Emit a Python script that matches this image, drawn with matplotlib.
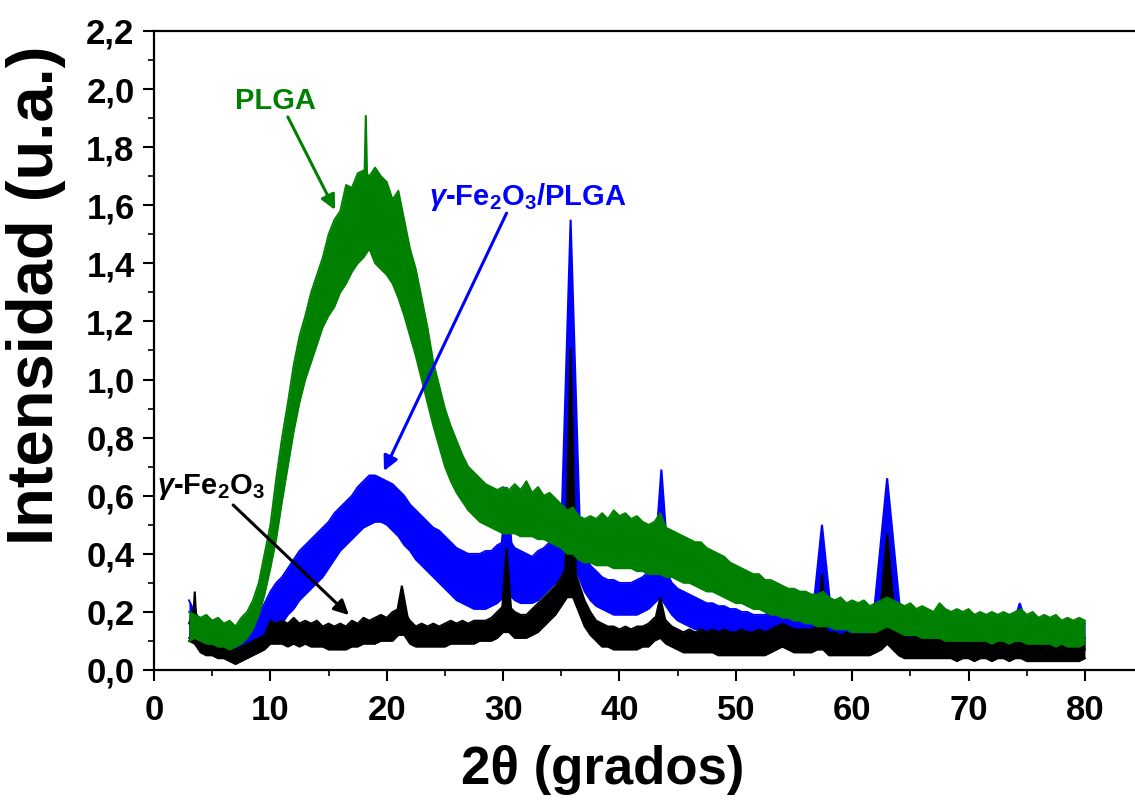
import numpy as np
import matplotlib
matplotlib.use("Agg")
import matplotlib.pyplot as plt
from matplotlib.ticker import MultipleLocator, FuncFormatter

plt.rcParams['font.family'] = ['Liberation Sans', 'DejaVu Sans']
plt.rcParams['font.weight'] = 'bold'
plt.rcParams['mathtext.fontset'] = 'custom'
plt.rcParams['mathtext.rm'] = 'Liberation Sans:bold'
plt.rcParams['mathtext.it'] = 'Liberation Sans:bold:italic'
plt.rcParams['mathtext.bf'] = 'Liberation Sans:bold'

# 2theta grid, every 0.5 degrees from 3 to 80
two_theta = np.arange(3.0, 80.01, 0.5)

# PLGA: upper and lower edge of the noisy trace
plga_hi = [0.20, 0.19, 0.18, 0.19, 0.17, 0.18, 0.16, 0.17, 0.15, 0.18,
           0.20, 0.24, 0.30, 0.40, 0.50, 0.66, 0.80, 0.92, 1.05, 1.15,
           1.22, 1.30, 1.36, 1.42, 1.50, 1.55, 1.58, 1.67, 1.66, 1.71,
           1.72, 1.70, 1.73, 1.70, 1.68, 1.62, 1.65, 1.55, 1.45, 1.38,
           1.28, 1.18, 1.06, 0.98, 0.90, 0.84, 0.79, 0.74, 0.70, 0.68,
           0.66, 0.64, 0.63, 0.62, 0.63, 0.62, 0.64, 0.62, 0.65, 0.61,
           0.63, 0.60, 0.61, 0.59, 0.57, 0.55, 0.56, 0.53, 0.52, 0.53,
           0.52, 0.54, 0.52, 0.55, 0.53, 0.54, 0.52, 0.53, 0.51, 0.50,
           0.51, 0.54, 0.49, 0.48, 0.47, 0.46, 0.45, 0.44, 0.44, 0.42,
           0.41, 0.40, 0.39, 0.37, 0.36, 0.35, 0.34, 0.33, 0.33, 0.31,
           0.31, 0.30, 0.29, 0.28, 0.28, 0.27, 0.27, 0.26, 0.26, 0.27,
           0.25, 0.24, 0.25, 0.23, 0.24, 0.23, 0.24, 0.22, 0.23, 0.24,
           0.25, 0.24, 0.23, 0.22, 0.23, 0.21, 0.22, 0.21, 0.20, 0.23,
           0.21, 0.20, 0.21, 0.20, 0.21, 0.19, 0.20, 0.19, 0.20, 0.19,
           0.20, 0.19, 0.20, 0.21, 0.19, 0.20, 0.18, 0.19, 0.18, 0.19,
           0.17, 0.18, 0.17, 0.18, 0.17]
plga_lo = [0.10, 0.11, 0.10, 0.09, 0.09, 0.08, 0.08, 0.07, 0.08, 0.09,
           0.11, 0.14, 0.19, 0.26, 0.35, 0.45, 0.58, 0.70, 0.82, 0.92,
           1.00, 1.06, 1.12, 1.18, 1.22, 1.25, 1.30, 1.33, 1.37, 1.40,
           1.42, 1.45, 1.40, 1.38, 1.36, 1.33, 1.28, 1.22, 1.15, 1.08,
           1.00, 0.92, 0.84, 0.77, 0.70, 0.65, 0.61, 0.58, 0.55, 0.53,
           0.51, 0.50, 0.49, 0.48, 0.47, 0.47, 0.47, 0.46, 0.46, 0.46,
           0.45, 0.45, 0.44, 0.43, 0.42, 0.40, 0.40, 0.38, 0.37, 0.37,
           0.36, 0.36, 0.36, 0.35, 0.35, 0.35, 0.35, 0.34, 0.34, 0.33,
           0.33, 0.33, 0.32, 0.32, 0.31, 0.30, 0.30, 0.29, 0.28, 0.27,
           0.27, 0.26, 0.25, 0.24, 0.23, 0.23, 0.22, 0.21, 0.21, 0.20,
           0.19, 0.19, 0.18, 0.18, 0.17, 0.17, 0.16, 0.16, 0.15, 0.15,
           0.15, 0.14, 0.14, 0.14, 0.13, 0.13, 0.13, 0.13, 0.13, 0.14,
           0.15, 0.14, 0.13, 0.12, 0.12, 0.12, 0.11, 0.11, 0.11, 0.11,
           0.10, 0.10, 0.10, 0.10, 0.10, 0.10, 0.10, 0.10, 0.09, 0.10,
           0.10, 0.09, 0.10, 0.10, 0.09, 0.09, 0.09, 0.09, 0.09, 0.08,
           0.09, 0.08, 0.08, 0.08, 0.09]

# gamma-Fe2O3/PLGA
comp_hi = [0.24, 0.20, 0.17, 0.16, 0.15, 0.14, 0.13, 0.12, 0.11, 0.13,
           0.14, 0.17, 0.19, 0.23, 0.27, 0.30, 0.32, 0.35, 0.38, 0.41,
           0.43, 0.45, 0.47, 0.49, 0.51, 0.54, 0.56, 0.58, 0.60, 0.63,
           0.65, 0.67, 0.67, 0.66, 0.65, 0.64, 0.62, 0.60, 0.57, 0.55,
           0.53, 0.51, 0.49, 0.48, 0.46, 0.44, 0.42, 0.41, 0.40, 0.40,
           0.40, 0.41, 0.41, 0.43, 0.44, 0.45, 0.42, 0.41, 0.40, 0.39,
           0.41, 0.42, 0.44, 0.45, 0.47, 0.50, 0.50, 0.45, 0.40, 0.36,
           0.34, 0.32, 0.31, 0.31, 0.30, 0.30, 0.30, 0.31, 0.32, 0.34,
           0.36, 0.38, 0.34, 0.30, 0.28, 0.27, 0.26, 0.25, 0.24, 0.23,
           0.23, 0.22, 0.22, 0.21, 0.21, 0.20, 0.20, 0.19, 0.19, 0.19,
           0.20, 0.22, 0.20, 0.18, 0.17, 0.17, 0.17, 0.18, 0.19, 0.20,
           0.18, 0.16, 0.16, 0.15, 0.16, 0.16, 0.17, 0.18, 0.19, 0.20,
           0.22, 0.20, 0.17, 0.16, 0.15, 0.14, 0.14, 0.15, 0.14, 0.14,
           0.15, 0.14, 0.14, 0.15, 0.14, 0.14, 0.15, 0.14, 0.14, 0.15,
           0.14, 0.15, 0.16, 0.16, 0.15, 0.15, 0.14, 0.15, 0.14, 0.14,
           0.15, 0.14, 0.15, 0.14, 0.16]
comp_lo = [0.11, 0.09, 0.07, 0.07, 0.06, 0.05, 0.05, 0.04, 0.04, 0.04,
           0.05, 0.06, 0.08, 0.10, 0.12, 0.14, 0.16, 0.19, 0.21, 0.24,
           0.26, 0.28, 0.30, 0.32, 0.35, 0.38, 0.41, 0.43, 0.45, 0.47,
           0.49, 0.50, 0.51, 0.51, 0.50, 0.48, 0.46, 0.43, 0.41, 0.38,
           0.36, 0.34, 0.32, 0.30, 0.28, 0.26, 0.24, 0.23, 0.22, 0.21,
           0.21, 0.21, 0.22, 0.23, 0.25, 0.26, 0.24, 0.23, 0.23, 0.23,
           0.24, 0.26, 0.28, 0.30, 0.33, 0.36, 0.36, 0.32, 0.27, 0.24,
           0.22, 0.21, 0.20, 0.19, 0.19, 0.19, 0.19, 0.19, 0.20, 0.21,
           0.23, 0.25, 0.22, 0.19, 0.17, 0.16, 0.15, 0.14, 0.14, 0.13,
           0.13, 0.12, 0.12, 0.11, 0.11, 0.11, 0.11, 0.10, 0.10, 0.10,
           0.10, 0.11, 0.10, 0.09, 0.09, 0.09, 0.09, 0.09, 0.10, 0.11,
           0.09, 0.08, 0.08, 0.08, 0.08, 0.08, 0.08, 0.09, 0.10, 0.11,
           0.12, 0.11, 0.09, 0.08, 0.07, 0.07, 0.07, 0.07, 0.07, 0.07,
           0.07, 0.06, 0.07, 0.06, 0.07, 0.06, 0.06, 0.07, 0.06, 0.06,
           0.06, 0.07, 0.08, 0.08, 0.07, 0.06, 0.06, 0.06, 0.06, 0.06,
           0.06, 0.06, 0.05, 0.06, 0.07]

# gamma-Fe2O3
fe_hi = [0.16, 0.22, 0.12, 0.11, 0.10, 0.09, 0.09, 0.08, 0.07, 0.08,
         0.09, 0.10, 0.11, 0.12, 0.17, 0.16, 0.17, 0.16, 0.18, 0.16,
         0.17, 0.16, 0.17, 0.15, 0.16, 0.15, 0.16, 0.15, 0.17, 0.16,
         0.18, 0.17, 0.18, 0.19, 0.18, 0.20, 0.21, 0.20, 0.17, 0.15,
         0.16, 0.15, 0.16, 0.15, 0.16, 0.17, 0.16, 0.17, 0.16, 0.17,
         0.17, 0.17, 0.18, 0.20, 0.22, 0.22, 0.20, 0.19, 0.19, 0.21,
         0.23, 0.25, 0.27, 0.29, 0.32, 0.36, 0.36, 0.30, 0.24, 0.20,
         0.17, 0.16, 0.15, 0.15, 0.14, 0.15, 0.14, 0.15, 0.15, 0.16,
         0.18, 0.19, 0.17, 0.15, 0.14, 0.13, 0.14, 0.13, 0.14, 0.13,
         0.14, 0.13, 0.14, 0.13, 0.13, 0.14, 0.13, 0.13, 0.14, 0.13,
         0.14, 0.15, 0.16, 0.15, 0.14, 0.14, 0.14, 0.14, 0.15, 0.15,
         0.13, 0.13, 0.12, 0.13, 0.12, 0.13, 0.12, 0.13, 0.14, 0.16,
         0.18, 0.16, 0.13, 0.12, 0.11, 0.12, 0.11, 0.12, 0.11, 0.12,
         0.11, 0.12, 0.11, 0.11, 0.12, 0.11, 0.11, 0.12, 0.11, 0.11,
         0.12, 0.11, 0.12, 0.12, 0.11, 0.11, 0.10, 0.11, 0.10, 0.11,
         0.10, 0.11, 0.10, 0.10, 0.11]
fe_lo = [0.10, 0.09, 0.06, 0.05, 0.05, 0.04, 0.04, 0.03, 0.02, 0.03,
         0.04, 0.05, 0.06, 0.07, 0.09, 0.09, 0.09, 0.08, 0.09, 0.08,
         0.09, 0.08, 0.08, 0.08, 0.07, 0.07, 0.07, 0.07, 0.08, 0.08,
         0.09, 0.09, 0.09, 0.10, 0.10, 0.10, 0.12, 0.12, 0.09, 0.08,
         0.08, 0.08, 0.08, 0.08, 0.08, 0.09, 0.09, 0.09, 0.09, 0.09,
         0.10, 0.10, 0.10, 0.11, 0.13, 0.13, 0.11, 0.11, 0.11, 0.12,
         0.13, 0.15, 0.17, 0.19, 0.22, 0.25, 0.25, 0.20, 0.15, 0.12,
         0.10, 0.08, 0.08, 0.07, 0.07, 0.07, 0.07, 0.07, 0.08, 0.08,
         0.10, 0.11, 0.09, 0.08, 0.07, 0.06, 0.06, 0.06, 0.06, 0.06,
         0.06, 0.05, 0.05, 0.05, 0.05, 0.05, 0.05, 0.05, 0.05, 0.05,
         0.06, 0.07, 0.08, 0.07, 0.06, 0.06, 0.06, 0.06, 0.07, 0.07,
         0.05, 0.05, 0.05, 0.05, 0.05, 0.05, 0.05, 0.05, 0.06, 0.07,
         0.09, 0.07, 0.05, 0.04, 0.04, 0.04, 0.04, 0.04, 0.04, 0.04,
         0.04, 0.04, 0.03, 0.04, 0.04, 0.03, 0.04, 0.04, 0.03, 0.04,
         0.04, 0.03, 0.04, 0.04, 0.03, 0.03, 0.03, 0.03, 0.03, 0.03,
         0.03, 0.03, 0.03, 0.03, 0.04]

# sharp reflections: position, top, foot level, half width
plga_pk_pos = [18.2]
plga_pk_top = [1.91]
plga_pk_base = [1.62]
plga_pk_w = [0.15]

comp_pk_pos = [30.3, 35.8, 43.6, 57.4, 63.0, 74.4]
comp_pk_top = [0.63, 1.55, 0.69, 0.50, 0.66, 0.23]
comp_pk_base = [0.42, 0.48, 0.36, 0.19, 0.21, 0.15]
comp_pk_w = [0.45, 0.80, 0.60, 0.80, 1.10, 0.60]

fe_pk_pos = [3.5, 21.3, 30.3, 35.8, 43.5, 57.4, 63.0]
fe_pk_top = [0.27, 0.29, 0.42, 1.11, 0.25, 0.33, 0.47]
fe_pk_base = [0.12, 0.18, 0.20, 0.33, 0.16, 0.14, 0.15]
fe_pk_w = [0.20, 0.50, 0.40, 0.45, 0.50, 0.40, 0.70]

GREEN = '#008000'
BLUE = '#0000ff'
BLACK = '#000000'

fig = plt.figure(figsize=(11.35, 8.11), dpi=100)
ax = fig.add_axes([0.1357, 0.1739, 0.8643, 0.7879])


def draw_trace(hi, lo, pos, top, base, w, color, z):
    ax.fill_between(two_theta, lo, hi, color=color, lw=0, zorder=z)
    ax.plot(two_theta, hi, color=color, lw=1.3, zorder=z)
    ax.plot(two_theta, lo, color=color, lw=1.3, zorder=z)
    for p, t, b, hw in zip(pos, top, base, w):
        ax.fill([p - hw, p, p + hw], [b, t, b], color=color, lw=1.5,
                zorder=z)


draw_trace(comp_hi, comp_lo, comp_pk_pos, comp_pk_top, comp_pk_base,
           comp_pk_w, BLUE, 2)
draw_trace(fe_hi, fe_lo, fe_pk_pos, fe_pk_top, fe_pk_base, fe_pk_w,
           BLACK, 3)
draw_trace(plga_hi, plga_lo, plga_pk_pos, plga_pk_top, plga_pk_base,
           plga_pk_w, GREEN, 4)

ax.set_xlim(0, 84.3)
ax.set_ylim(0, 2.2)
ax.xaxis.set_major_locator(MultipleLocator(10))
ax.xaxis.set_minor_locator(MultipleLocator(5))
ax.yaxis.set_major_locator(MultipleLocator(0.2))
ax.yaxis.set_minor_locator(MultipleLocator(0.1))
ax.yaxis.set_major_formatter(FuncFormatter(lambda v, p: f'{v:.1f}'.replace('.', ',')))

for side in ['left', 'bottom', 'top']:
    ax.spines[side].set_linewidth(1.6)
ax.spines['right'].set_visible(False)
ax.tick_params(which='major', direction='out', length=8, width=1.5, labelsize=25)
ax.tick_params(which='minor', direction='out', length=4, width=1.2)
ax.tick_params(axis='x', which='major', pad=9)
ax.tick_params(axis='y', which='major', pad=6)

ax.set_xlabel('2θ (grados)', fontsize=38, fontweight='bold')
ax.set_ylabel('Intensidad (u.a.)', fontsize=47, fontweight='bold')
ax.xaxis.set_label_coords(0.457, -0.118)
ax.yaxis.set_label_coords(-0.09, 0.587)

# labels and arrows
ax.text(10.4, 1.96, 'PLGA', color=GREEN, fontsize=21, fontweight='bold',
        ha='center', va='center', zorder=6)
ax.annotate('', xy=(15.55, 1.584), xytext=(11.5, 1.904),
            arrowprops=dict(arrowstyle='-|>', color=GREEN, lw=2.2,
                            mutation_scale=22, shrinkA=0, shrinkB=0), zorder=6)

ax.text(32.1, 1.63, r'$\gamma$-Fe$_2$O$_3$/PLGA', color=BLUE, fontsize=21,
        fontweight='bold', ha='center', va='center', zorder=6)
ax.annotate('', xy=(19.76, 0.685), xytext=(30.3, 1.573),
            arrowprops=dict(arrowstyle='-|>', color=BLUE, lw=2.2,
                            mutation_scale=22, shrinkA=0, shrinkB=0), zorder=6)

ax.text(4.9, 0.63, r'$\gamma$-Fe$_2$O$_3$', color=BLACK, fontsize=21,
        fontweight='bold', ha='center', va='center', zorder=6)
ax.annotate('', xy=(16.75, 0.189), xytext=(6.8, 0.568),
            arrowprops=dict(arrowstyle='-|>', color=BLACK, lw=2.2,
                            mutation_scale=22, shrinkA=0, shrinkB=0), zorder=6)

fig.savefig('out.png', dpi=100)
